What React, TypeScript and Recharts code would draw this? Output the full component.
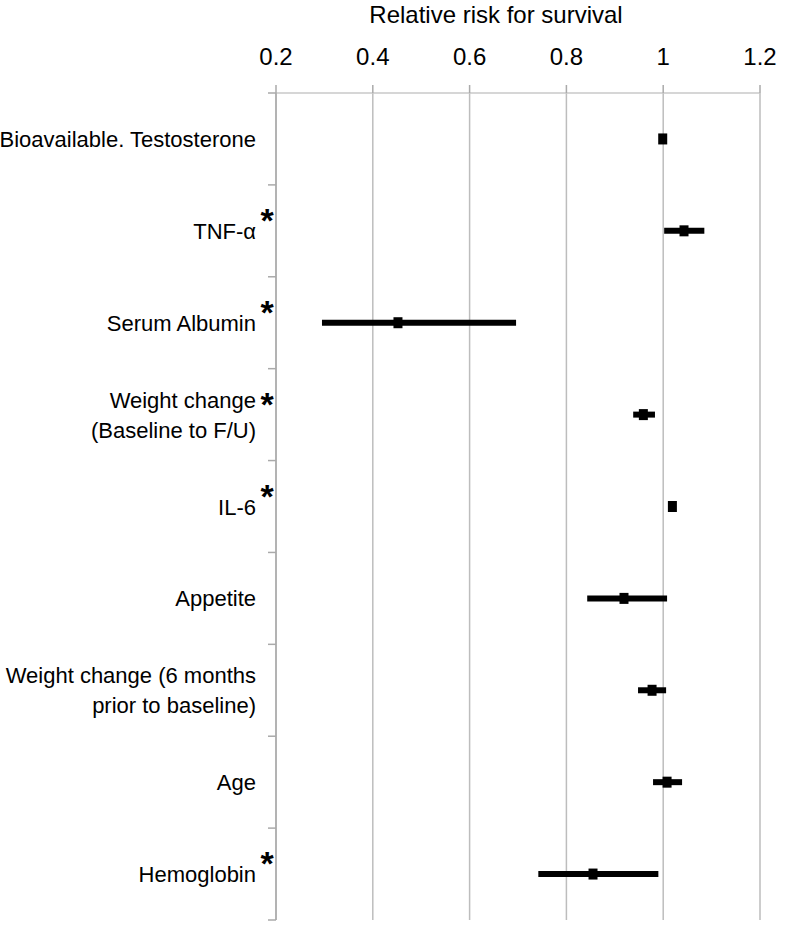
import React from 'react';
import { ScatterChart, Scatter, XAxis, YAxis, CartesianGrid, ErrorBar, Customized } from 'recharts';

const labels = [
  'Bioavailable. Testosterone',
  'TNF-α',
  'Serum Albumin',
  'Weight change\n(Baseline to F/U)',
  'IL-6',
  'Appetite',
  'Weight change (6 months\nprior to baseline)',
  'Age',
  'Hemoglobin',
];
const starred = [false, true, true, true, true, false, false, false, true];
const riskRatio = [0.999, 1.043, 0.452, 0.959, 1.019, 0.919, 0.977, 1.008, 0.855];
const lowerCI = [0.997, 1.002, 0.295, 0.938, 1.013, 0.843, 0.948, 0.979, 0.742];
const upperCI = [1.001, 1.085, 0.696, 0.983, 1.025, 1.008, 1.006, 1.039, 0.99];
const xTicks = [0.2, 0.4, 0.6, 0.8, 1, 1.2];

const FONT = '"Liberation Sans", Arial, sans-serif';

const data = labels.map((name, i) => ({
  name,
  pos: i + 0.5,
  rr: riskRatio[i],
  err: [riskRatio[i] - lowerCI[i], upperCI[i] - riskRatio[i]],
}));

const yTicks: number[] = [];
for (let i = 0; i <= labels.length * 2; i++) yTicks.push(i / 2);

const XTick = (props: any) => {
  const { x, payload } = props;
  return (
    <text x={x} y={65} textAnchor="middle" fontFamily={FONT} fontSize={24} fill="#000">
      {String(payload.value)}
    </text>
  );
};

const YTick = (props: any) => {
  const { x, y, payload } = props;
  const v = payload.value as number;
  if (Number.isInteger(v)) {
    return <line x1={x - 8} x2={x} y1={y} y2={y} stroke="#aaa" strokeWidth={1.5} />;
  }
  const idx = Math.floor(v);
  const lines = labels[idx].split('\n');
  const first = lines.length === 1 ? y + 8 : y - 7;
  return (
    <g>
      {lines.map((l, k) => (
        <text key={k} x={x - 20} y={first + k * 30} textAnchor="end" fontFamily={FONT} fontSize={22} fill="#000">
          {l}
        </text>
      ))}
      {starred[idx] && (
        <text x={x - 9} y={y + 1} textAnchor="middle" fontFamily={FONT} fontSize={34} fontWeight="bold" fill="#000">
          *
        </text>
      )}
    </g>
  );
};

const Marker = (props: any) => {
  const { cx, cy } = props;
  return <rect x={cx - 4.5} y={cy - 5.5} width={9} height={11} fill="#000" />;
};

const Title = () => (
  <text x={496} y={23} textAnchor="middle" fontFamily={FONT} fontSize={24} fill="#000">
    Relative risk for survival
  </text>
);

export default function App() {
  return (
    <div style={{ position: 'absolute', left: 0, top: 0, width: 793, height: 948, background: '#fff' }}>
      <ScatterChart width={793} height={948} margin={{ top: 0, right: 33, left: 0, bottom: 28 }}>
        <CartesianGrid horizontal={false} stroke="#bdbdbd" strokeWidth={1.5} />
        <XAxis
          type="number"
          dataKey="rr"
          orientation="top"
          domain={[0.2, 1.2]}
          ticks={xTicks}
          interval={0}
          height={93}
          tick={<XTick />}
          tickSize={8}
          axisLine={{ stroke: '#c8c8c8', strokeWidth: 1.5 }}
          tickLine={{ stroke: '#aaa', strokeWidth: 1.5 }}
        />
        <YAxis
          type="number"
          dataKey="pos"
          domain={[0, labels.length]}
          reversed
          ticks={yTicks}
          interval={0}
          width={276}
          tick={<YTick />}
          tickLine={false}
          tickSize={0}
          tickMargin={0}
          axisLine={{ stroke: '#aaa', strokeWidth: 1.5 }}
        />
        <Scatter data={data} shape={<Marker />} isAnimationActive={false}>
          <ErrorBar dataKey="err" direction="x" width={0} stroke="#000" strokeWidth={6} />
        </Scatter>
        <Customized component={Title} />
      </ScatterChart>
    </div>
  );
}
